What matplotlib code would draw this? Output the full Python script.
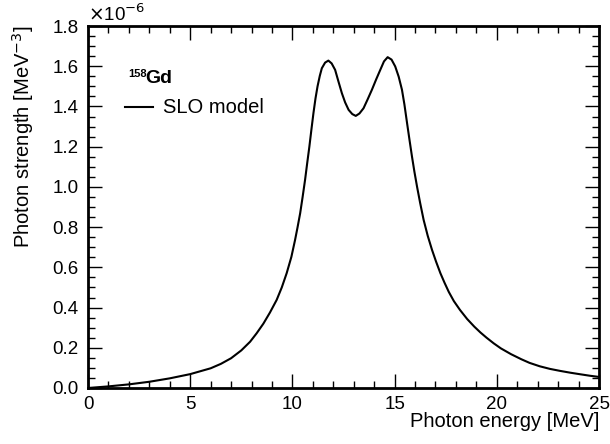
import matplotlib
matplotlib.use("Agg")
import matplotlib.pyplot as plt
from matplotlib.ticker import MultipleLocator

# photon strength, in units of 1e-6 MeV^-3
energy = [0.0, 1.0, 2.0, 3.0, 4.0, 5.0, 6.0, 6.5, 7.0, 7.5, 7.93, 8.25, 8.58,
          8.9, 9.23, 9.48, 9.72, 9.95, 10.13, 10.25, 10.38, 10.5, 10.62, 10.72,
          10.83, 10.93, 11.03, 11.13, 11.23, 11.34, 11.44, 11.6, 11.76, 11.92,
          12.09, 12.25, 12.42, 12.58, 12.75, 12.93, 13.1, 13.28, 13.48, 13.68,
          13.89, 14.1, 14.3, 14.48, 14.66, 14.85, 15.03, 15.2, 15.36, 15.48,
          15.61, 15.73, 15.85, 15.97, 16.1, 16.25, 16.42, 16.62, 16.83, 17.03,
          17.24, 17.44, 17.65, 17.9, 18.2, 18.55, 18.9, 19.2, 19.5, 19.85, 20.2,
          20.7, 21.2, 21.6, 22.1, 22.6, 23.1, 23.6, 24.1, 24.55, 25.0]
strength = [0.0, 0.008, 0.018, 0.031, 0.048, 0.069, 0.098, 0.120, 0.148, 0.187,
            0.230, 0.272, 0.320, 0.375, 0.438, 0.500, 0.571, 0.652, 0.736, 0.798,
            0.869, 0.950, 1.035, 1.115, 1.200, 1.285, 1.367, 1.440, 1.500, 1.552,
            1.590, 1.618, 1.628, 1.614, 1.582, 1.525, 1.466, 1.420, 1.383, 1.362,
            1.353, 1.365, 1.391, 1.435, 1.483, 1.535, 1.582, 1.624, 1.645, 1.633,
            1.599, 1.548, 1.483, 1.410, 1.317, 1.233, 1.151, 1.075, 1.000, 0.920,
            0.836, 0.757, 0.687, 0.628, 0.571, 0.524, 0.478, 0.432, 0.388, 0.343,
            0.305, 0.276, 0.250, 0.222, 0.197, 0.168, 0.143, 0.125, 0.108, 0.095,
            0.085, 0.076, 0.068, 0.061, 0.055]

plt.rcParams['font.family'] = ['Liberation Sans', 'DejaVu Sans']

fig = plt.figure(figsize=(6.1, 4.44), dpi=100)
ax = fig.add_axes([88 / 610, 1 - 388 / 444, 511 / 610, 362 / 444])
ax.plot(energy, strength, '-', color='black', linewidth=1.5,
        solid_joinstyle='round')

ax.set_xlim(0, 25)
ax.set_ylim(0, 1.8)
ax.xaxis.set_major_locator(MultipleLocator(5))
ax.xaxis.set_minor_locator(MultipleLocator(1))
ax.yaxis.set_major_locator(MultipleLocator(0.2))
ax.yaxis.set_minor_locator(MultipleLocator(0.05))
ax.yaxis.set_major_formatter(plt.FormatStrFormatter('%.1f'))
ax.tick_params(which='both', direction='in', top=True, right=True, labelsize=13.5, width=1)
ax.tick_params(which='major', length=10)
ax.tick_params(axis='x', which='major', pad=6)
ax.tick_params(axis='y', which='major', pad=7)
ax.tick_params(which='minor', length=5)
for s in ax.spines.values():
    s.set_linewidth(2)

ax.set_xlabel('Photon energy [MeV]', fontsize=14.5, loc='right')
ax.xaxis.set_label_coords(1.0, -0.066)
ax.xaxis.label.set_va('top')
ax.set_ylabel('Photon strength [MeV$^{-3}$]', fontsize=14.5, loc='top')
ax.yaxis.set_label_coords(-0.102, 1.0)
ax.text(0.0, 1.003, r'$\times$10$^{-6}$', transform=ax.transAxes, fontsize=13.5,
        ha='left', va='bottom')

# legend drawn by hand, ROOT style
ax.text(40 / 511, (388 - 69) / 362, '158', transform=ax.transAxes,
        fontsize=8, fontweight='bold', ha='left', va='top')
ax.text(57 / 511, (388 - 83) / 362, 'Gd', transform=ax.transAxes,
        fontsize=14, fontweight='bold', ha='left', va='baseline')
ax.plot([37 / 511, 65 / 511], [1 - 81 / 362] * 2, '-', color='black',
        linewidth=1.5, transform=ax.transAxes)
ax.text(75 / 511, 1 - 81 / 362, 'SLO model', transform=ax.transAxes,
        fontsize=14.5, ha='left', va='center')

fig.savefig('out.png', dpi=100)
plt.close(fig)
